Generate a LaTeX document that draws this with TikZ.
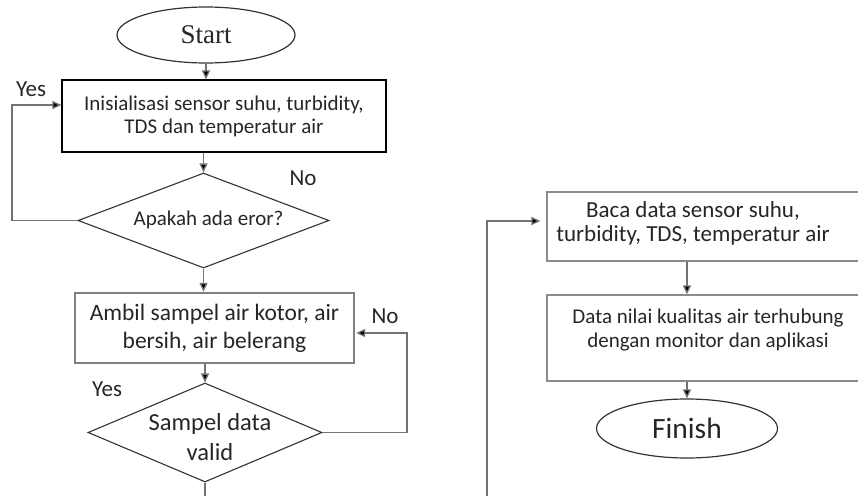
\documentclass[tikz,border=0pt]{standalone}
\usepackage{fontspec}
\setmainfont{Carlito}
\newfontfamily\serifstart{Liberation Serif}
\usetikzlibrary{shapes.geometric,arrows.meta}

\begin{document}
\begin{tikzpicture}[x=1pt,y=-1pt,
  every node/.style={text=black!85, inner sep=2pt},
  terminal/.style={draw=black!80, line width=1.2pt, ellipse, inner sep=0pt},
  procbox/.style={draw=black, line width=1.2pt, rectangle, inner sep=0pt},
  graybox/.style={draw=black!45, line width=1.3pt, rectangle, inner sep=0pt},
  samplebox/.style={draw=black!50, line width=2.4pt, rectangle, inner sep=0pt},
  decision/.style={draw=black!80, line width=1.1pt, diamond, inner sep=0pt},
  conn/.style={draw=black!55, line width=1.3pt, -{Triangle[length=9pt,width=8pt,fill=black]}},
  plainline/.style={draw=black!55, line width=1.3pt},
  txt/.style={font=\fontsize{21}{23}\selectfont, align=center},
  bigtxt/.style={font=\fontsize{23.5}{28}\selectfont, align=center},
  lbl/.style={font=\fontsize{23}{26}\selectfont}]

\useasboundingbox (0,0) rectangle (858,495);
\clip (0,0) rectangle (858,495);

% terminals
\node[terminal, minimum width=178pt, minimum height=56pt] (start) at (206,35)
  {\serifstart\fontsize{27}{30}\selectfont Start};
\node[terminal, minimum width=181pt, minimum height=59pt] (finish) at (687,428.5)
  {\fontsize{29.5}{32}\selectfont Finish};

% left column
\node[procbox, minimum width=324pt, minimum height=72pt, txt] (box1) at (224,116)
  {Inisialisasi sensor suhu, turbidity,\\TDS dan temperatur air};
\node[decision, minimum width=251pt, minimum height=95pt] (d1) at (203.5,220.5) {};
\node[txt] (d1text) at (208.5,220) {Apakah ada eror?};
\node[samplebox, minimum width=279pt, minimum height=70pt, bigtxt] (box2) at (214.5,328)
  {Ambil sampel air kotor, air\\bersih, air belerang};
\node[decision, minimum width=234pt, minimum height=99pt] (d2) at (205,432.5) {};
\node[font=\fontsize{24.5}{30}\selectfont, align=center] (d2text) at (210,437) {Sampel data\\valid};

% right column
\node[graybox, minimum width=333pt, minimum height=69pt] (box3) at (713.5,226.5) {};
\node[font=\fontsize{23}{23.5}\selectfont, align=center] (box3text) at (693,223.5)
  {Baca data sensor suhu,\\turbidity, TDS, temperatur air};
\node[graybox, minimum width=333pt, minimum height=86pt] (box4) at (713.5,338) {};
\node[txt, font=\fontsize{21}{24}\selectfont] (box4text) at (708,330)
  {Data nilai kualitas air terhubung\\dengan monitor dan aplikasi};

% branch labels
\node[lbl] (yes1) at (31,89) {Yes};
\node[lbl] (no1) at (303,178) {No};
\node[lbl] (no2) at (385,316) {No};
\node[lbl] (yes2) at (107,389) {Yes};

% connectors
\coordinate (loopA) at (12,105);
\coordinate (loopB) at (407,333);
\coordinate (exitA) at (205,505);
\coordinate (entryB) at (487,505);
\coordinate (bendB) at (487,221);

\draw[conn] (start.south) -- (start.south |- box1.north);
\draw[conn] (d1.north |- box1.south) -- (d1.north);
\draw[conn] (d1.west) -| (loopA) -- (loopA -| box1.west);
\draw[conn] (d1.south) -- (d1.south |- box2.north);
\draw[conn] (d2.north |- box2.south) -- (d2.north);
\draw[conn] (d2.east) -| (loopB) -- ([xshift=1pt]loopB -| box2.east);
\draw[plainline] (d2.south) -- (exitA);
\draw[conn, shorten >=6pt] (entryB) -- (bendB) -- (bendB -| box3.west);
\draw[conn] (finish.north |- box3.south) -- (finish.north |- box4.north);
\draw[conn] (finish.north |- box4.south) -- (finish.north);

\end{tikzpicture}
\end{document}
